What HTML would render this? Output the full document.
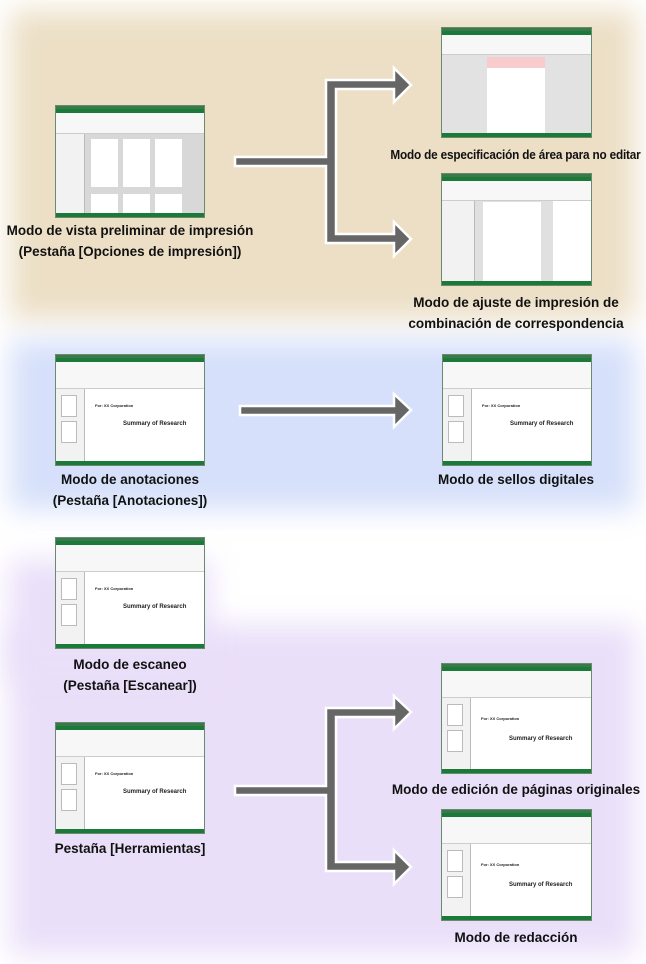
<!DOCTYPE html>
<html><head><meta charset="utf-8"><style>
body{margin:0;width:646px;height:964px;position:relative;overflow:hidden;background:#fff;font-family:"Liberation Sans",sans-serif;}
.bg{position:absolute;filter:blur(14px);}
.lbl{position:absolute;font-weight:bold;font-size:13.5px;color:#111;text-align:center;line-height:21px;white-space:nowrap;}
.win{position:absolute;background:#fff;border:1px solid #6a8a70;overflow:hidden;box-sizing:border-box;}
.win .t{position:absolute;left:0;right:0;top:0;height:3px;background:#3a7a4a;}
.win .g{position:absolute;left:0;right:0;top:3px;height:4px;background:#1b7a3a;}
.win .rb{position:absolute;left:0;right:0;top:7px;height:20px;background:#f7f7f7;border-bottom:1px solid #ccc;}
.win .sb{position:absolute;left:0;right:0;bottom:0;height:4px;background:#1b7a3a;}
.win .lp{position:absolute;left:0;top:28px;bottom:4px;width:28px;background:#f2f2f2;border-right:1px solid #bbb;}
.win .gr{position:absolute;left:29px;right:0;top:28px;bottom:4px;background:#e0e0e0;}
.win .pg{position:absolute;background:#fff;}
.th{position:absolute;left:5px;width:14px;height:20px;background:#fff;border:1px solid #bbb;}
.tx{position:absolute;font-size:4px;font-weight:bold;color:#222;white-space:nowrap;}
</style></head><body>
<div class="bg" style="left:10px;top:10px;width:626px;height:310px;background:#ecdfc6"></div>
<div class="bg" style="left:10px;top:340px;width:626px;height:170px;background:#d6e0fa"></div>
<div class="bg" style="left:10px;top:625px;width:626px;height:330px;background:#eadff9"></div>
<div class="bg" style="left:10px;top:560px;width:200px;height:120px;background:#eadff9"></div>

<svg style="position:absolute;left:0;top:0" width="646" height="964">
<g fill="#666" stroke="#fff" stroke-width="2.5">
<polygon points="235,157 326,157 326,80 394,80 394,68 411,85 394,102 394,89 336,89 336,234 394,234 394,222 411,239 394,256 394,243 326,243 326,166 235,166"/>
<polygon points="240,406 394,406 394,394 411,410 394,427 394,415 240,415"/>
<polygon points="235,786 326,786 326,708 394,708 394,696 411,712 394,729 394,717 336,717 336,862 394,862 394,850 411,867 394,884 394,871 326,871 326,795 235,795"/>
</g>
</svg>

<div class="win" style="left:55px;top:105px;width:150px;height:113px"><div class="t"></div><div class="g"></div><div class="rb"></div><div class="lp"></div><div class="gr" style="background:#d8d8d8"><div class="pg" style="left:6px;top:5px;width:27px;height:48px"></div><div class="pg" style="left:38px;top:5px;width:27px;height:48px"></div><div class="pg" style="left:70px;top:5px;width:27px;height:48px"></div><div class="pg" style="left:6px;top:60px;width:27px;height:30px"></div><div class="pg" style="left:38px;top:60px;width:27px;height:30px"></div><div class="pg" style="left:70px;top:60px;width:27px;height:30px"></div></div><div class="sb"></div></div>

<div class="win" style="left:441px;top:27px;width:151px;height:111px"><div class="t"></div><div class="g"></div><div class="rb" style="height:19px"></div><div class="gr" style="left:0;top:27px;background:#e2e2e2"><div class="pg" style="left:45px;top:2px;width:58px;height:80px"><div style="height:11px;background:#f8cccc"></div></div></div><div class="sb"></div></div>

<div class="win" style="left:441px;top:173px;width:151px;height:113px"><div class="t"></div><div class="g"></div><div class="rb" style="height:19px"></div><div class="lp" style="top:27px;width:32px"></div><div class="gr" style="left:33px;top:27px;right:38px"><div class="pg" style="left:8px;top:1px;width:58px;height:84px"></div></div><div style="position:absolute;right:0;top:27px;width:37px;bottom:4px;background:#fff"></div><div class="sb"></div></div>

<div class="win" style="left:55px;top:354px;width:150px;height:112px"><div class="t"></div><div class="g"></div><div class="rb" style="height:26px"></div><div class="lp" style="top:34px"><div class="th" style="top:6px"></div><div class="th" style="top:32px"></div></div><div class="gr" style="top:34px;background:#fff"><div class="tx" style="left:10px;top:14px">For: XX Corporation</div><div class="tx" style="left:38px;top:32px;font-size:6px">Summary of Research</div></div><div class="sb"></div></div>

<div class="win" style="left:442px;top:354px;width:150px;height:112px"><div class="t"></div><div class="g"></div><div class="rb" style="height:26px"></div><div class="lp" style="top:34px"><div class="th" style="top:6px"></div><div class="th" style="top:32px"></div></div><div class="gr" style="top:34px;background:#fff"><div class="tx" style="left:10px;top:14px">For: XX Corporation</div><div class="tx" style="left:38px;top:32px;font-size:6px">Summary of Research</div></div><div class="sb"></div></div>

<div class="win" style="left:55px;top:537px;width:150px;height:112px"><div class="t"></div><div class="g"></div><div class="rb" style="height:26px"></div><div class="lp" style="top:34px"><div class="th" style="top:6px"></div><div class="th" style="top:32px"></div></div><div class="gr" style="top:34px;background:#fff"><div class="tx" style="left:10px;top:14px">For: XX Corporation</div><div class="tx" style="left:38px;top:32px;font-size:6px">Summary of Research</div></div><div class="sb"></div></div>

<div class="win" style="left:55px;top:722px;width:150px;height:112px"><div class="t"></div><div class="g"></div><div class="rb" style="height:26px"></div><div class="lp" style="top:34px"><div class="th" style="top:6px"></div><div class="th" style="top:32px"></div></div><div class="gr" style="top:34px;background:#fff"><div class="tx" style="left:10px;top:14px">For: XX Corporation</div><div class="tx" style="left:38px;top:32px;font-size:6px">Summary of Research</div></div><div class="sb"></div></div>

<div class="win" style="left:441px;top:663px;width:151px;height:111px"><div class="t"></div><div class="g"></div><div class="rb" style="height:26px"></div><div class="lp" style="top:34px"><div class="th" style="top:6px"></div><div class="th" style="top:32px"></div></div><div class="gr" style="top:34px;background:#fff"><div class="tx" style="left:10px;top:18px">For: XX Corporation</div><div class="tx" style="left:38px;top:38px;font-size:6px">Summary of Research</div></div><div class="sb"></div></div>

<div class="win" style="left:441px;top:809px;width:151px;height:112px"><div class="t"></div><div class="g"></div><div class="rb" style="height:26px"></div><div class="lp" style="top:34px"><div class="th" style="top:6px"></div><div class="th" style="top:32px"></div></div><div class="gr" style="top:34px;background:#fff"><div class="tx" style="left:10px;top:18px">For: XX Corporation</div><div class="tx" style="left:38px;top:38px;font-size:6px">Summary of Research</div></div><div class="sb"></div></div>

<div class="lbl" style="left:0;width:260px;top:220px">Modo de vista preliminar de impresión<br>(Pestaña [Opciones de impresión])</div>
<div class="lbl" style="left:380px;width:260px;top:144px;font-size:12.8px;letter-spacing:-0.2px;transform:scaleX(0.92)">Modo de especificación de área para no editar</div>
<div class="lbl" style="left:386px;width:260px;top:292px">Modo de ajuste de impresión de<br>combinación de correspondencia</div>
<div class="lbl" style="left:0;width:260px;top:469px">Modo de anotaciones<br>(Pestaña [Anotaciones])</div>
<div class="lbl" style="left:386px;width:260px;top:469px">Modo de sellos digitales</div>
<div class="lbl" style="left:0;width:260px;top:654px">Modo de escaneo<br>(Pestaña [Escanear])</div>
<div class="lbl" style="left:0;width:260px;top:838px">Pestaña [Herramientas]</div>
<div class="lbl" style="left:386px;width:260px;top:779px">Modo de edición de páginas originales</div>
<div class="lbl" style="left:386px;width:260px;top:927px">Modo de redacción</div>
</body></html>
